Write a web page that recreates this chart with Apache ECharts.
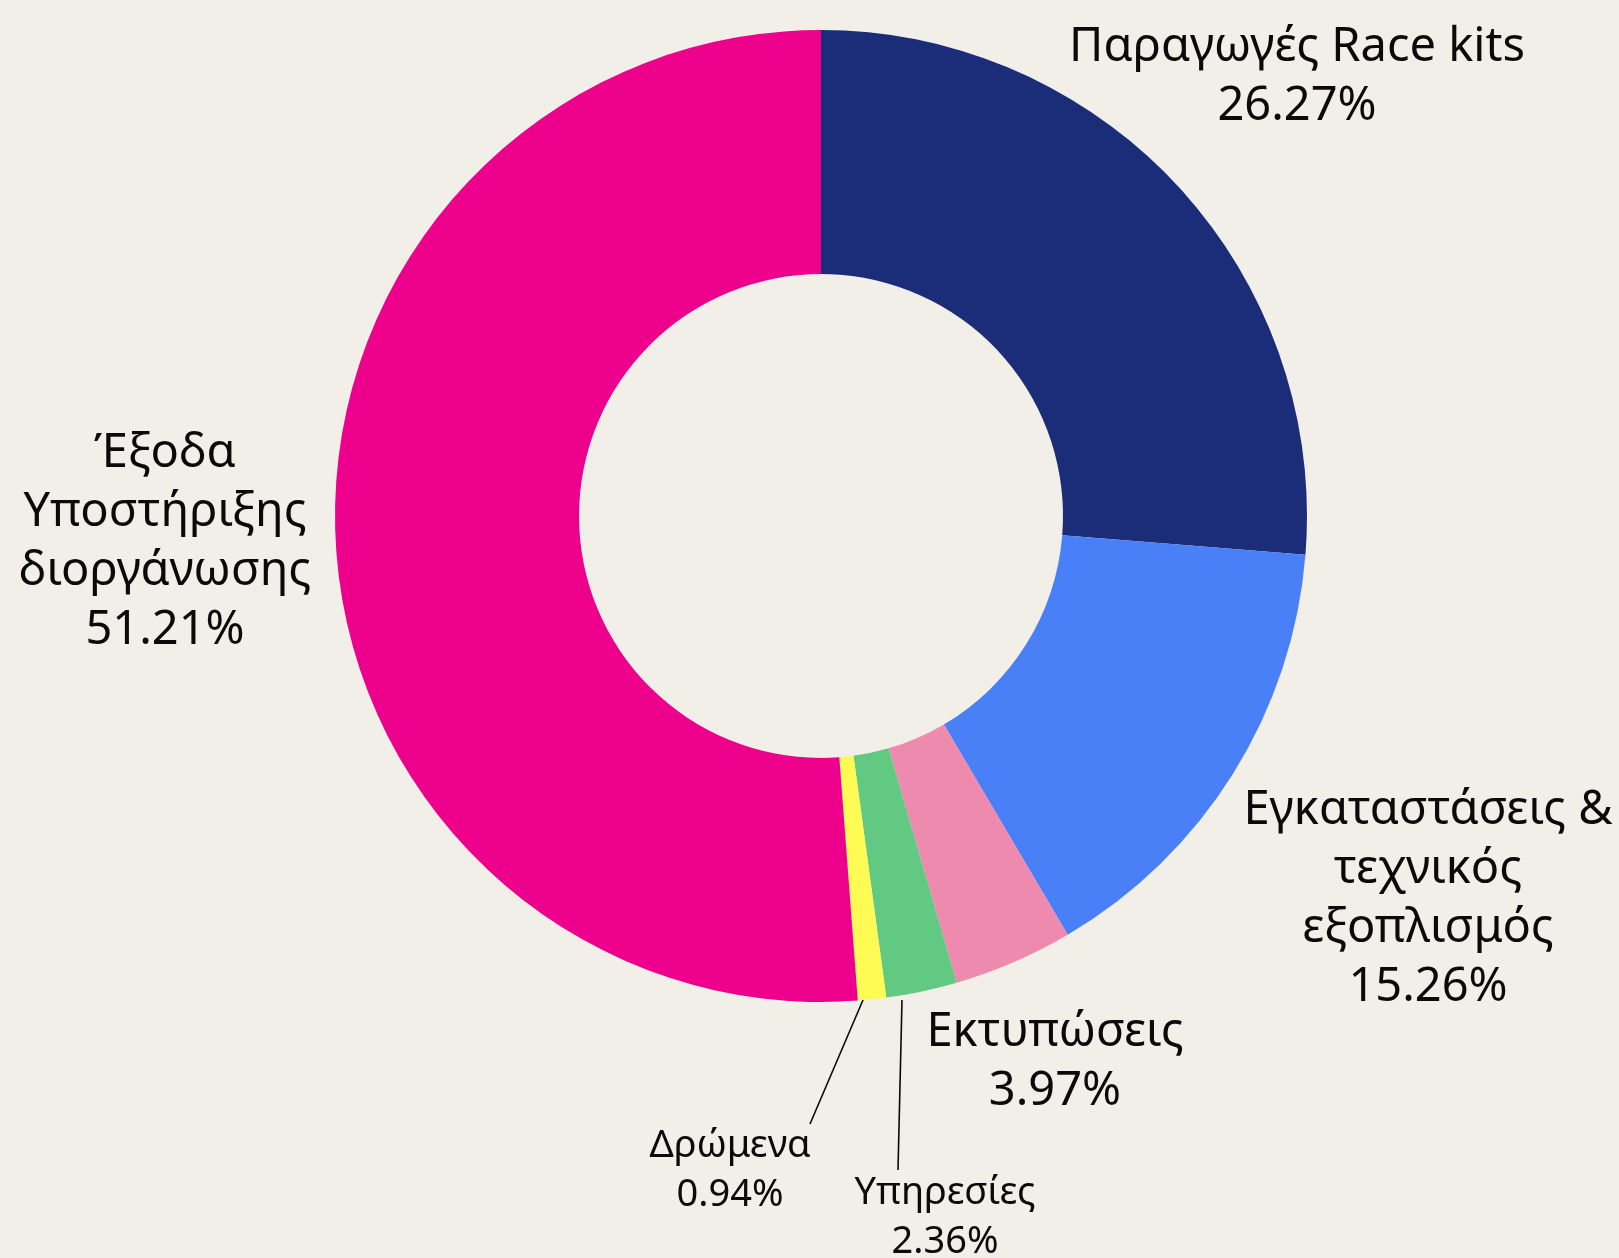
<!DOCTYPE html>
<html>
<head>
<meta charset="utf-8">
<title>pie</title>
<script src="https://cdn.jsdelivr.net/npm/echarts@6/dist/echarts.min.js"></script>
<style>
  html, body { margin: 0; padding: 0; background: #f2efe9; }
  #main { width: 1619px; height: 1258px; }
</style>
</head>
<body>
<div id="main"></div>
<script>
// categories, clockwise from 12 o'clock
const categories = [
  'Παραγωγές Race kits',
  'Εγκαταστάσεις &\nτεχνικός\nεξοπλισμός',
  'Εκτυπώσεις',
  'Υπηρεσίες',
  'Δρώμενα',
  'Έξοδα\nΥποστήριξης\nδιοργάνωσης'
]
const values = [26.27, 15.26, 3.97, 2.36, 0.94, 51.21]
const colors = ['#1b2d78', '#4a80f7', '#ef8aaf', '#62c983', '#fffb55', '#ec008c']

// label placement (center of text block) and leader lines
const labelPos = [
  { x: 1297, y: 77 },
  { x: 1428, y: 899 },
  { x: 1055, y: 1062 },
  { x: 945, y: 1218 },
  { x: 730, y: 1171 },
  { x: 165, y: 542 }
]
const smallLabel = [false, false, false, true, true, false]
const leaders = [null, null, null, [[902, 1000], [898, 1170]], [[863, 1000], [810, 1124]], null]

let chart = echarts.init(document.getElementById('main'))
let option = {
  backgroundColor: '#f2efe9',
  animation: false,
  series: [
    {
      type: 'pie',
      center: [821, 516],
      radius: [242, 486],
      startAngle: 90,
      clockwise: true,
      avoidLabelOverlap: false,
      label: {
        show: true,
        position: 'outside',
        color: '#0a0a0a',
        fontFamily: 'Noto Sans',
        fontSize: 47,
        lineHeight: 59,
        formatter: function(p) {
          return p.name + '\n' + p.value.toFixed(2) + '%'
        }
      },
      labelLine: {
        show: false,
        lineStyle: { color: '#0a0a0a', width: 1.6 }
      },
      labelLayout: function(params) {
        let i = params.dataIndex
        let res = {
          x: labelPos[i].x,
          y: labelPos[i].y,
          align: 'center',
          verticalAlign: 'middle'
        }
        if (leaders[i]) {
          res.labelLinePoints = [leaders[i][0], leaders[i][1], leaders[i][1]]
        }
        return res
      },
      itemStyle: { borderWidth: 0 },
      emphasis: { disabled: true },
      data: categories.map(function(name, i) {
        let item = {
          name: name,
          value: values[i],
          itemStyle: { color: colors[i] }
        }
        if (smallLabel[i]) {
          item.label = { fontSize: 38, lineHeight: 49 }
          item.labelLine = { show: true }
        }
        return item
      })
    }
  ]
}
chart.setOption(option)
</script>
</body>
</html>
